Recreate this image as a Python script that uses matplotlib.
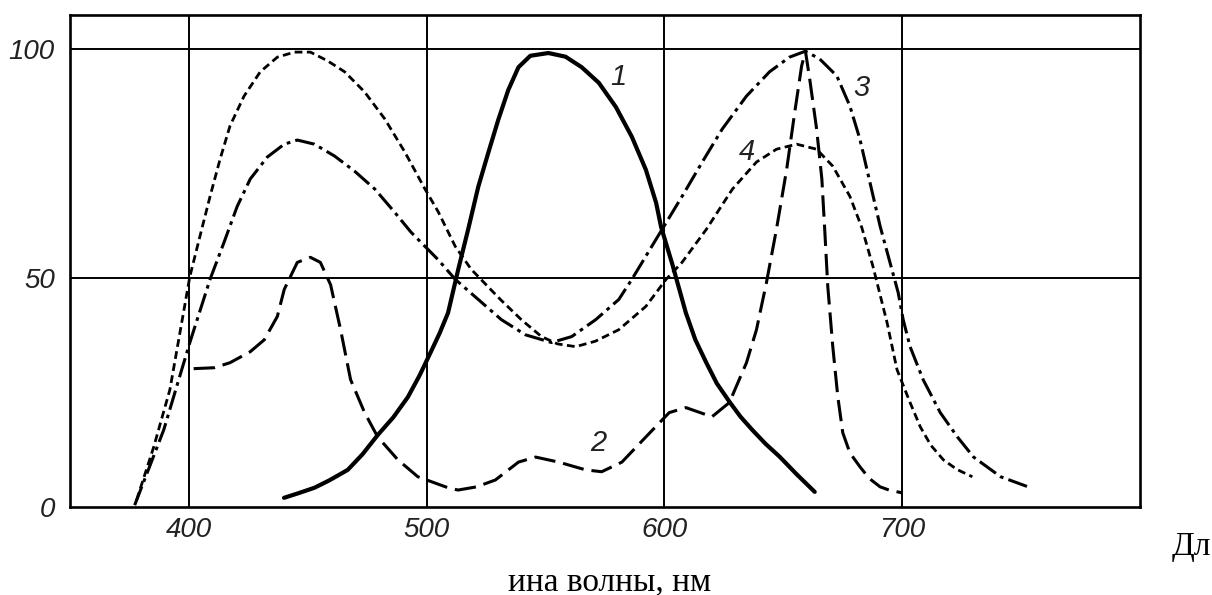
import matplotlib
matplotlib.use("Agg")
import matplotlib.pyplot as plt

# Curve 1 (solid)
x1 = [440, 446, 452.8, 459, 466.8, 473, 479.4, 486, 492.1, 497, 501.8, 505.5, 509, 513.2, 517.4, 521.7, 525.9,
      530.1, 534.3, 538.6, 543.6, 551.2, 558.4, 565.2, 572.4, 579.6, 586.3, 592.2, 596.5, 598.6, 603.2, 609,
      613, 617.6, 622, 627.3, 632, 637, 642.5, 648.4, 655.5, 663.2]
y1 = [2, 3, 4.2, 5.8, 8.1, 11.5, 15.7, 19.6, 24, 28.7, 33.9, 38, 42.4, 51.7, 60.5, 69.9, 77.3,
      84.5, 91, 96, 98.5, 99.1, 98.3, 96, 92.6, 87.3, 80.8, 73.6, 66.4, 61.1, 53.2, 42.4,
      36.5, 31.5, 27, 23, 19.7, 16.8, 13.8, 11, 7.2, 3.3]
# Curve 2 (long dash)
x2 = [402, 410.6, 417.3, 425.8, 431.7, 437.2, 440.1, 445.6, 451.1, 455.3, 459.6, 463.8, 468, 473.9, 479.4,
      487.9, 496.3, 509, 513.2, 521, 528.9, 538.6, 545.8, 555.5, 566.9, 573.6, 582.1, 592.2, 602, 609, 620, 627.3,
      634.5, 638.7, 642.9, 647.1, 651.4, 654.8, 657.7, 659.3, 661.1, 664, 666.2, 667.4, 668.7, 670.8, 672.9,
      675, 678, 682.2, 686, 690.7, 695, 700]
y2 = [30.2, 30.4, 31.5, 33.9, 36.5, 41.6, 47.5, 53.4, 54.5, 53.4, 48.5, 38.7, 27.8, 20.6, 15.3,
      10.3, 6.6, 4.2, 3.7, 4.4, 5.9, 9.8, 10.9, 9.8, 8.1, 7.7, 9.8, 15.3, 20.6, 21.7, 19.7, 22.8,
      31.5, 38.7, 49, 60.6, 73.7, 86.2, 96.3, 99.5, 93.4, 82.5, 71.6, 60.6, 48.1, 35, 24.1,
      16.2, 11.8, 8.8, 6.3, 4.4, 3.6, 3.1]
# Curve 3 (dash-dot)
x3 = [377.2, 389.4, 400.4, 408.9, 414.8, 420.3, 425.8, 433, 440.1, 445.6, 452.8, 461.3, 469.7, 478.2, 486.6,
      493.4, 500.6, 504.8, 512, 521.7, 531.4, 541.5, 552.5, 561, 571.1, 580.8, 586.3, 599, 607.4, 615.9,
      624.3, 634.5, 644.2, 652.6, 659.3, 665.3, 672.5, 678, 682.2, 690.7, 698.3, 700.4, 703.3, 708.8, 716,
      723.2, 730, 741.4, 754]
y3 = [0.4, 16.8, 35.9, 49.7, 57.8, 65.6, 71.6, 76.4, 79.2, 80.1, 79.2, 76.6, 73.3, 69.4, 64.3,
      60, 56.2, 54, 49.7, 45.3, 40.9, 37.6, 35.9, 37.2, 40.9, 45.3, 49.7, 60.6, 67.8, 75.3,
      82.5, 89.7, 95, 98.2, 99.5, 97.8, 94.1, 87.5, 80.3, 61.3, 46.8, 40.9, 35, 27.8, 20.6,
      15.3, 10.9, 6.6, 4.2]
# Curve 4 (short dash)
x4 = [378, 385.2, 392, 400.4, 404.6, 408.9, 413.1, 417.3, 423.2, 430, 437.2, 444.4, 451.1, 458.3, 465.5,
      473.9, 482.4, 490.8, 499.3, 504.8, 512, 518.7, 531, 540, 548.3, 555, 562.7, 571, 580.8, 592.2, 600.7,
      607.4, 617.6, 628.6, 638.7, 647.1, 655.6, 664, 670.8, 678, 683, 687.7, 693.6, 697.8, 703.3, 707.6,
      712, 717.3, 723, 729.5]
y4 = [1.5, 13.1, 25.6, 50.3, 59, 67.8, 75.9, 83.2, 89.7, 95, 98.2, 99.3, 99.3, 97.4, 95,
      90.6, 84.7, 77.5, 69.4, 64.5, 56.9, 51.9, 45.3, 40.8, 37.2, 35.6, 35, 36.2, 38.7, 43.8, 49.7,
      53.4, 60.6, 69.4, 75.3, 78.1, 79.2, 78.1, 74.4, 67.8, 61, 52.5, 40.3, 30, 22.8, 17.5,
      13.5, 10.3, 8.2, 6.6]

curve_labels = ["1", "2", "3", "4"]
label_x = [580.8, 572, 683, 634.5]
label_y = [93.9, 14, 91.5, 77.5]

xticks = [400, 500, 600, 700]
yticks = [0, 50, 100]

tickfont = ['Liberation Sans', 'DejaVu Sans']
serif = ['Liberation Serif', 'DejaVu Serif']

fig = plt.figure(figsize=(12.12, 5.95), dpi=100)
ax = fig.add_axes([70/1212, 1-507/595, (1140-70)/1212, (507-15)/595])
ax.set_xlim(350, 800)
ax.set_ylim(0, 107.4)

for v in xticks:
    ax.axvline(v, color='black', lw=1.4, zorder=1)
for v in [50, 100]:
    ax.axhline(v, color='black', lw=1.4, zorder=1)

ax.plot(x1, y1, color='black', lw=3.0, solid_capstyle='round', solid_joinstyle='round', zorder=3)
ax.plot(x2, y2, color='black', lw=2.2, dashes=(7, 2.6), zorder=3)
ax.plot(x3, y3, color='black', lw=2.2, dashes=(6.5, 1.7, 1.2, 1.7), zorder=3)
ax.plot(x4, y4, color='black', lw=2.0, dashes=(2.8, 1.6), zorder=3)

for t, lx, ly in zip(curve_labels, label_x, label_y):
    ax.text(lx, ly, t, fontsize=21, style='italic', family=tickfont,
            ha='center', va='center', color='#222222')

for s in ax.spines.values():
    s.set_linewidth(1.9)

ax.set_xticks(xticks)
ax.set_yticks(yticks)
ax.set_xticklabels([str(v) for v in xticks])
ax.set_yticklabels([str(v) for v in yticks])
ax.tick_params(length=0, pad=7)
ax.tick_params(axis='y', pad=11)
for lab in ax.get_xticklabels() + ax.get_yticklabels():
    lab.set_fontsize(20)
    lab.set_style('italic')
    lab.set_family(tickfont)
    lab.set_color('#222222')

fig.text(1172/1212, 1-555/595, "Дл", fontsize=24, family=serif, ha='left', va='baseline')
fig.text(610/1212, 1-590/595, "ина волны, нм", fontsize=24, family=serif, ha='center', va='baseline')

fig.savefig("out.png", dpi=100)
